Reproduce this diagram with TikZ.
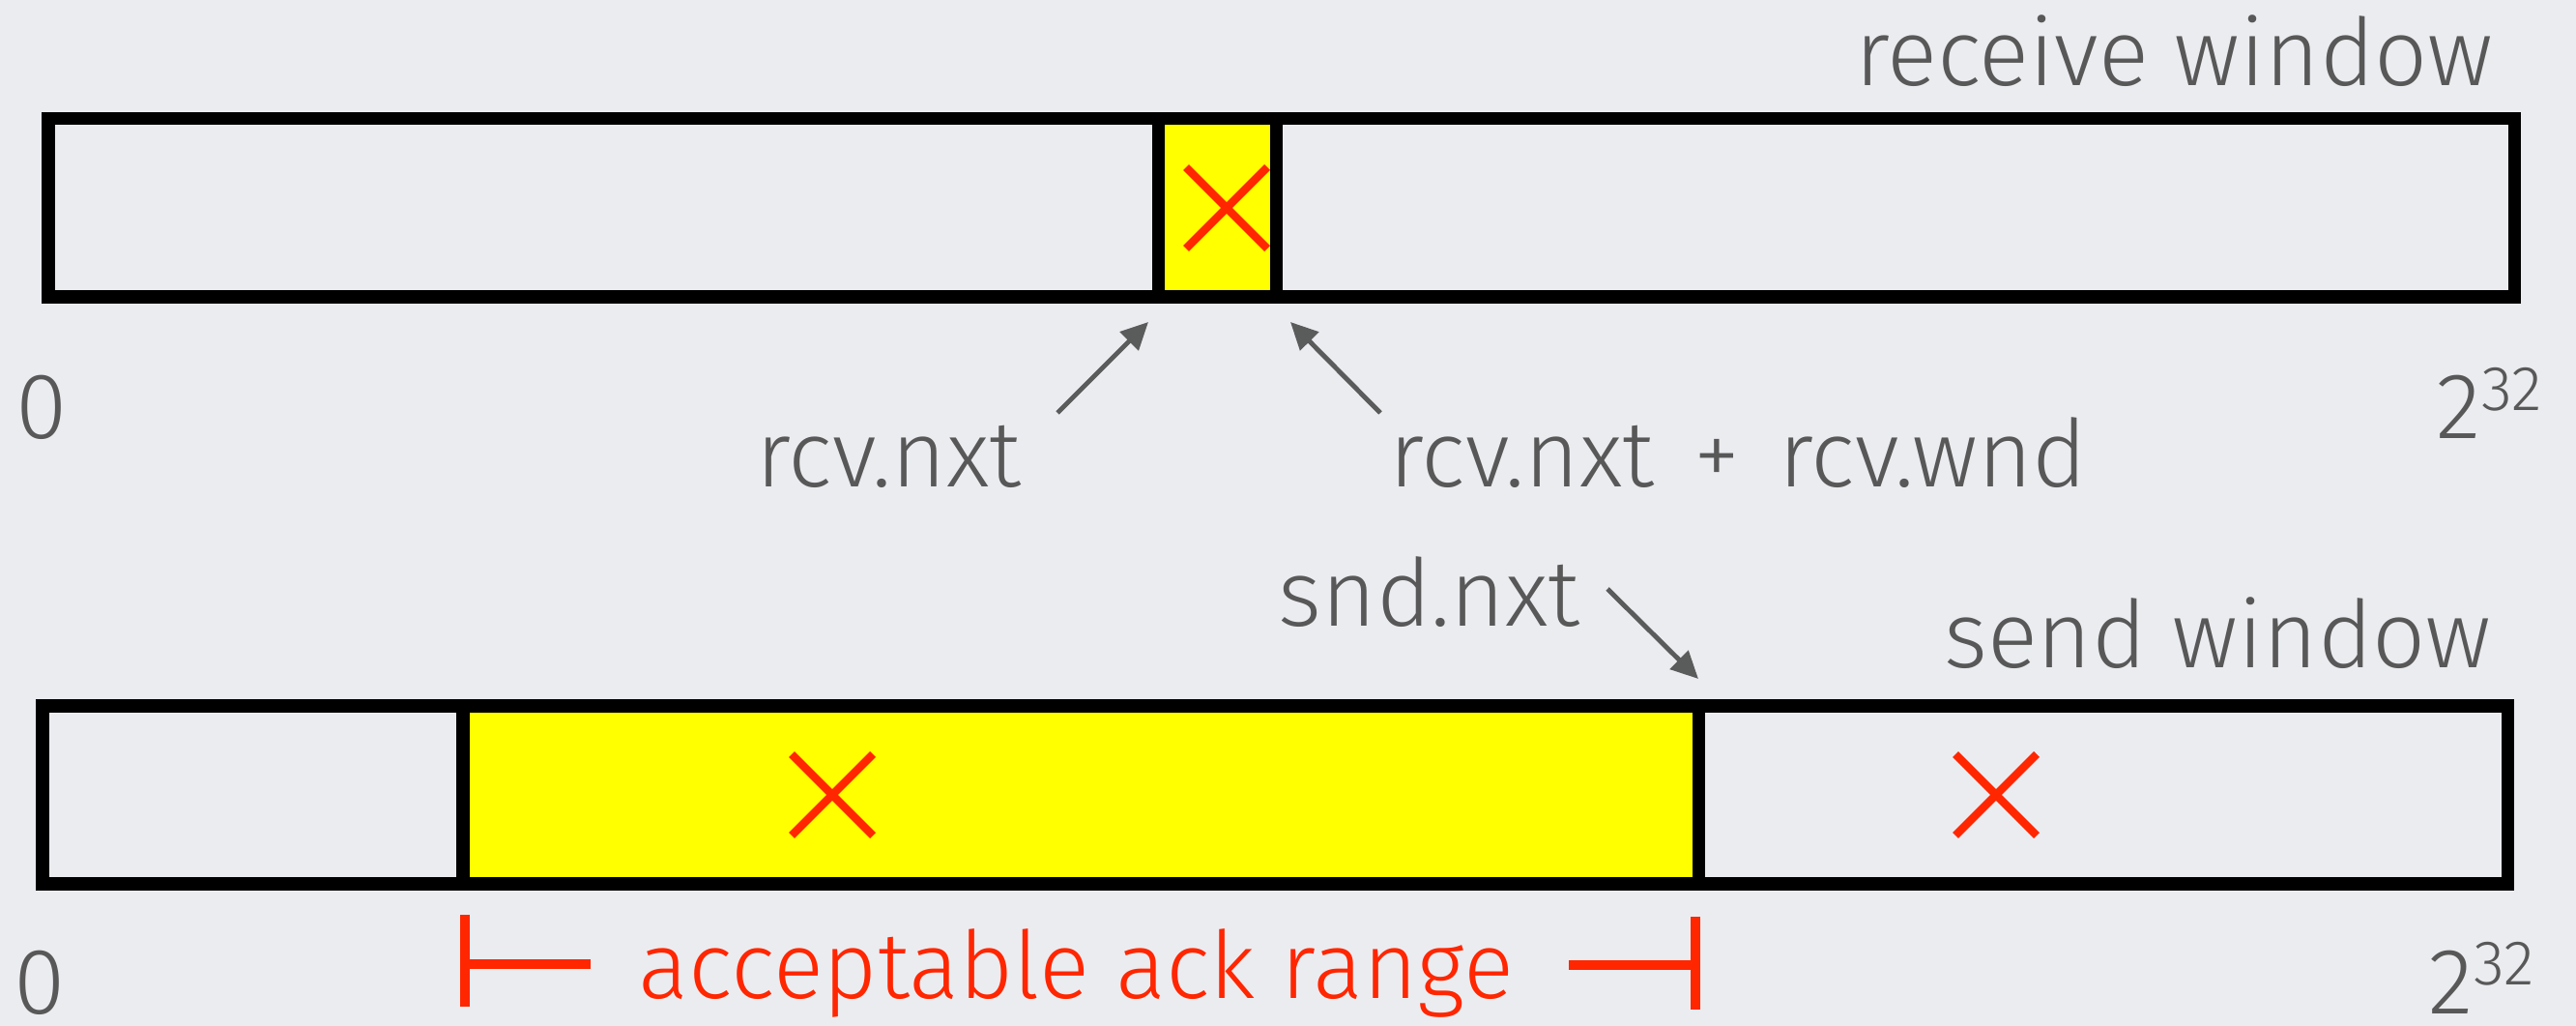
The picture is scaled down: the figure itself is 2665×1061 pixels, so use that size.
\documentclass[tikz,border=0pt]{standalone}
\usepackage{fontspec}
\setmainfont{Fira Sans Light}
\usetikzlibrary{arrows.meta}
\definecolor{bg}{RGB}{235,236,240}
\definecolor{txt}{RGB}{88,88,88}
\definecolor{xred}{RGB}{255,38,0}
\definecolor{ylw}{RGB}{255,255,0}
\definecolor{arr}{RGB}{90,92,92}
\newcommand\twopow{2\raisebox{8.5pt}{\fontsize{18.6pt}{19pt}\selectfont 32}}
\tikzset{
  lbl/.style={inner sep=0pt, text=txt, font=\fontsize{27.5pt}{30pt}\selectfont},
  redlbl/.style={inner sep=0pt, text=xred, font=\fontsize{27.5pt}{30pt}\selectfont},
  barline/.style={line width=3.7pt, draw=black},
  xmark/.style={draw=xred, line width=2.4pt},
  ptr/.style={draw=arr, line width=1.4pt, -{Triangle[length=8pt,width=7.5pt]}},
  brk/.style={draw=xred, line width=3.1pt},
}
\begin{document}
\begin{tikzpicture}[x=0.01cm,y=-0.01cm]
\fill[bg] (0,0) rectangle (2665,1061);
\useasboundingbox (0,0) rectangle (2665,1061);

% receive window bar
\fill[ylw] (1198,123) rectangle (1320,307);
\draw[barline] (50,123) rectangle (2601,307);
\draw[barline] (1198,123) -- (1198,307);
\draw[barline] (1320,123) -- (1320,307);
\draw[xmark] (1227,173) -- (1311,257);
\draw[xmark] (1227,257) -- (1311,173);

% send window bar
\fill[ylw] (479,730) rectangle (1757,914);
\draw[barline] (44,730) rectangle (2594,914);
\draw[barline] (479,730) -- (479,914);
\draw[barline] (1757,730) -- (1757,914);
\draw[xmark] (819,780) -- (903,864);
\draw[xmark] (819,864) -- (903,780);
\draw[xmark] (2023,780) -- (2107,864);
\draw[xmark] (2023,864) -- (2107,780);

% labels
\node[lbl, anchor=base east] (rw) at (2580,89) {receive window};
\node[lbl, anchor=base west] (z1) at (16,454) {0};
\node[lbl, anchor=base west] (p1) at (2520,454) {\twopow};
\node[lbl, anchor=base west] (rn) at (782,504) {rcv.nxt};
\node[lbl, anchor=base west] (rw2) at (1437,504) {rcv.nxt\hspace{0.42em}+\hspace{0.42em}rcv.wnd};
\node[lbl, anchor=base west] (sn) at (1322,648) {snd.nxt};
\node[lbl, anchor=base east] (sw) at (2578,691) {send window};
\node[lbl, anchor=base west] (z2) at (14,1048) {0};
\node[lbl, anchor=base west] (p2) at (2512,1048) {\twopow};
\node[redlbl, anchor=base west] (ack) at (660,1033) {acceptable ack range};

% pointer arrows
\coordinate (a1t) at (1094,427);
\coordinate (a1h) at (1188,333);
\coordinate (a2t) at (1428,427);
\coordinate (a2h) at (1335,333);
\coordinate (a3t) at (1663,609);
\coordinate (a3h) at (1757,702);
\draw[ptr] (a1t) -- (a1h);
\draw[ptr] (a2t) -- (a2h);
\draw[ptr] (a3t) -- (a3h);

% acceptable ack range bracket
\coordinate (bl1) at (481,946);
\coordinate (bl2) at (481,1041);
\coordinate (bl3) at (481,997);
\coordinate (bl4) at (611,997);
\coordinate (br1) at (1754,948);
\coordinate (br2) at (1754,1044);
\coordinate (br3) at (1754,998);
\coordinate (br4) at (1623,998);
\draw[brk] (bl1) -- (bl2);
\draw[brk] (bl3) -- (bl4);
\draw[brk] (br1) -- (br2);
\draw[brk] (br3) -- (br4);
\end{tikzpicture}
\end{document}
